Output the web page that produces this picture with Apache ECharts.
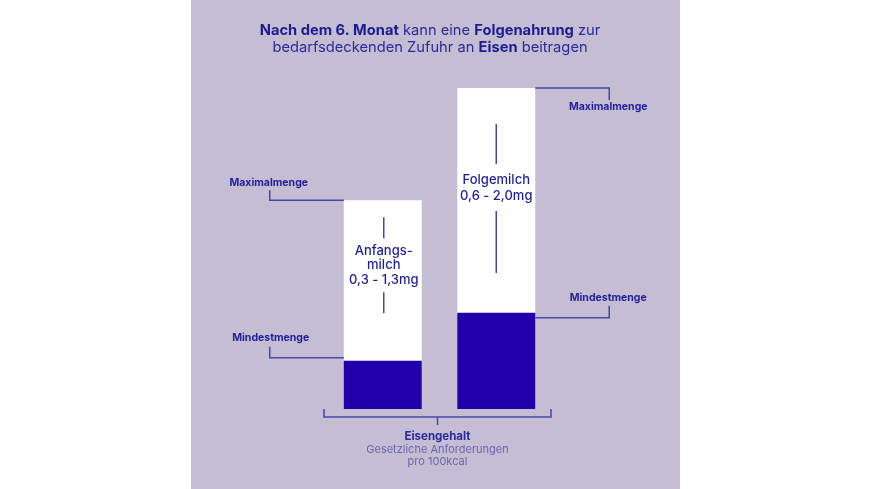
<!DOCTYPE html>
<html>
<head>
<meta charset="utf-8">
<script src="https://cdn.jsdelivr.net/npm/echarts@6/dist/echarts.min.js"></script>
<style>
html,body{margin:0;padding:0;background:#ffffff;}
#main{width:870px;height:489px;}
</style>
</head>
<body>
<div id="main"></div>
<script>
// ---- data ----
const categories = ['Anfangsmilch', 'Folgemilch'];
const minValues = [0.3, 0.6];   // Mindestmenge (mg Eisen / 100kcal)
const maxValues = [1.3, 2.0];   // Maximalmenge (mg Eisen / 100kcal)
const barLabels = ['Anfangs-\nmilch\n0,3 - 1,3mg', 'Folgemilch\n0,6 - 2,0mg'];
const minLabel = 'Mindestmenge';
const maxLabel = 'Maximalmenge';
const titleLine1 = ['Nach dem 6. Monat', ' kann eine ', 'Folgenahrung', ' zur'];
const titleLine2 = ['bedarfsdeckenden Zufuhr an ', 'Eisen', ' beitragen'];
const axisTitle = 'Eisengehalt';
const axisSub = ['Gesetzliche Anforderungen', 'pro 100kcal'];

const FONT = 'Inter, "Noto Sans", sans-serif';
const BLUE = '#1f1f9c';
const LINE = '#4646a8';
const DARK = '#2100a9';

const chart = echarts.init(document.getElementById('main'), null, {renderer: 'canvas'});

const option = {
  backgroundColor: '#ffffff',
  animation: false,
  title: [{
    left: 425, top: 17, textAlign: 'center',
    text: '{b|' + titleLine1[0] + '}{r|' + titleLine1[1] + '}{b|' + titleLine1[2] + '}{r|' + titleLine1[3] + '}\n' +
          '{r|' + titleLine2[0] + '}{b|' + titleLine2[1] + '}{r|' + titleLine2[2] + '}',
    textStyle: {
      fontFamily: FONT, fontSize: 15, lineHeight: 17,
      rich: {
        b: {fontFamily: FONT, fontSize: 14.7, fontWeight: 'bold', color: '#1c1c92', lineHeight: 17},
        r: {fontFamily: FONT, fontSize: 14.7, fontWeight: 'normal', color: '#2a2a9c', lineHeight: 17}
      }
    }
  }],
  grid: {left: 326, right: 317, top: 88, bottom: 80},
  xAxis: {
    type: 'category', data: categories,
    show: false
  },
  yAxis: {type: 'value', min: 0, max: 2.0, interval: 0.5, show: false},
  series: [
    {type: 'bar', name: maxLabel, data: maxValues, barWidth: 78, barGap: '-100%',
     itemStyle: {color: '#ffffff'}, silent: true},
    {type: 'bar', name: minLabel, data: minValues, barWidth: 78,
     itemStyle: {color: DARK}, silent: true}
  ]
};
chart.setOption(option);

function px(i, v) { return chart.convertToPixel({seriesIndex: 0}, [i, v]); }
const half = 39;
const g = [];
// lavender panel behind everything
g.push({type: 'rect', z: -10, silent: true, shape: {x: 191, y: 0, width: 489, height: 489}, style: {fill: '#c5bdd3'}});

function line(points) {
  return {type: 'polyline', z: 10, silent: true, shape: {points: points}, style: {stroke: LINE, lineWidth: 1.5, fill: null}};
}
function txt(x, y, t, opts) {
  return {type: 'text', z: 10, silent: true, x: x, y: y,
    style: Object.assign({text: t, fill: BLUE, fontFamily: FONT, fontSize: 10.5, fontWeight: 'bold', align: 'center', verticalAlign: 'middle'}, opts || {})};
}

// bar 0: leaders on left
{
  const top = px(0, maxValues[0]);
  const mn = px(0, minValues[0]);
  const xl = top[0] - half;
  const ex = xl - 74;
  g.push(line([[xl, top[1]], [ex, top[1]], [ex, top[1] - 10]]));
  g.push(txt(ex - 1, top[1] - 18, maxLabel));
  g.push(line([[xl, mn[1] - 3], [ex, mn[1] - 3], [ex, mn[1] - 14]]));
  g.push(txt(ex + 1, mn[1] - 23, minLabel));
  // inner label
  const cx = top[0] + 1;
  g.push(line([[cx, top[1] + 17], [cx, top[1] + 38]]));
  g.push(txt(cx, top[1] + 65, barLabels[0], {fontSize: 13, fontWeight: 500, lineHeight: 14.5}));
  g.push(line([[cx, top[1] + 92], [cx, top[1] + 113]]));
}
// bar 1: leaders on right
{
  const top = px(1, maxValues[1]);
  const mn = px(1, minValues[1]);
  const xr = top[0] + half;
  const ex = xr + 74;
  g.push(line([[xr, top[1]], [ex, top[1]], [ex, top[1] + 12]]));
  g.push(txt(ex - 1, top[1] + 19, maxLabel));
  g.push(line([[xr, mn[1] + 5], [ex, mn[1] + 5], [ex, mn[1] - 7]]));
  g.push(txt(ex - 1, mn[1] - 15, minLabel));
  const cx = top[0];
  g.push(line([[cx, top[1] + 36], [cx, top[1] + 76]]));
  g.push(txt(cx, top[1] + 100, barLabels[1], {fontSize: 13, fontWeight: 500, lineHeight: 15.5}));
  g.push(line([[cx, top[1] + 123], [cx, top[1] + 185]]));
}
// bottom bracket
{
  const p0 = px(0, 0), p1 = px(1, 0);
  const step = p1[0] - p0[0];
  const xl = p0[0] - step / 2 - 2, xr = p1[0] + step / 2 - 2;
  const yb = p0[1] + 8;
  g.push(line([[xl, yb - 8], [xl, yb], [xr, yb], [xr, yb - 8]]));
  const mx = (xl + xr) / 2;
  g.push(line([[mx, yb], [mx, yb + 8]]));
  g.push(txt(mx, yb + 20, axisTitle, {fontSize: 11.5, fontWeight: 'bold', fill: '#2a2a9c'}));
  g.push(txt(mx, yb + 32.5, axisSub[0], {fontSize: 11, fontWeight: 'normal', fill: '#6a66b0'}));
  g.push(txt(mx, yb + 45, axisSub[1], {fontSize: 11, fontWeight: 'normal', fill: '#6a66b0'}));
}
chart.setOption({graphic: g});
</script>
</body>
</html>
